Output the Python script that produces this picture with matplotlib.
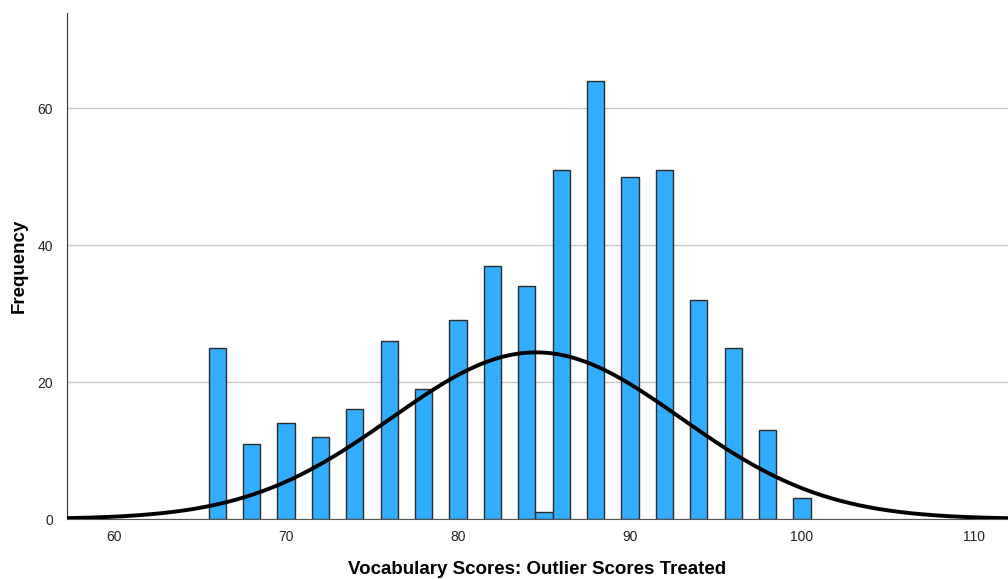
import numpy as np
import matplotlib
matplotlib.use("Agg")
import matplotlib.pyplot as plt

# score values and their counts
scores = [66, 68, 70, 72, 74, 76, 78, 80, 82, 84, 85, 86, 88, 90, 92, 94, 96, 98, 100]
counts = [25, 11, 14, 12, 16, 26, 19, 29, 37, 34, 1, 51, 64, 50, 51, 32, 25, 13, 3]

x_ticks = [60, 70, 80, 90, 100, 110]
y_ticks = [0, 20, 40, 60]

plt.rcParams['font.family'] = ['Liberation Sans', 'DejaVu Sans']

fig = plt.figure(figsize=(10.08, 5.79), dpi=100)
ax = fig.add_axes([0.0665, 0.1036, 0.9335, 0.8739])

ax.bar(scores, counts, width=1.0, color='#33adff', edgecolor='#2b2b2b', linewidth=1.0, zorder=3)

# normal curve from the sample mean / sd, scaled to counts (bin width 1)
vals = np.repeat(scores, counts)
mu = vals.mean()
sd = vals.std(ddof=1)
xs = np.linspace(57.27, 112, 400)
ys = len(vals) * np.exp(-0.5 * ((xs - mu) / sd) ** 2) / (sd * np.sqrt(2 * np.pi))
ax.plot(xs, ys, color='black', linewidth=2.8, zorder=4)

ax.set_xlim(57.27, 111.98)
ax.set_ylim(0, 73.9)
ax.set_xticks(x_ticks)
ax.set_yticks(y_ticks)
ax.tick_params(length=0, labelsize=10, colors='#222222')
ax.tick_params(axis='x', pad=8)
ax.tick_params(axis='y', pad=10)
ax.yaxis.grid(True, color='#c8c8c8', linewidth=1.0, zorder=0)
ax.set_axisbelow(True)

for side in ['top', 'right']:
    ax.spines[side].set_visible(False)
ax.spines['left'].set_color('#333333')
ax.spines['bottom'].set_color('#555555')

ax.set_xlabel('Vocabulary Scores: Outlier Scores Treated', fontsize=13.5, fontweight='bold', labelpad=12)
ax.set_ylabel('Frequency', fontsize=13.5, fontweight='bold', labelpad=7)

fig.savefig('out.png', dpi=100)
